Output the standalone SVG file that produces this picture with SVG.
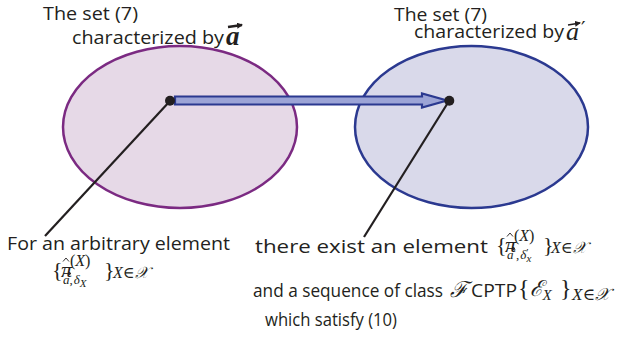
<svg xmlns="http://www.w3.org/2000/svg" width="642" height="346" viewBox="0 0 642 346">
<style>
.t{font-family:"Open Sans","Noto Sans","Liberation Sans",sans-serif;font-size:19px;fill:#231f20}
.m{font-family:"Liberation Serif","DejaVu Serif",serif;fill:#231f20}
.i{font-style:italic}
.s{font-family:"DejaVu Serif",serif;font-style:italic}
.lead{stroke:#231f20;stroke-width:2.2;fill:none}
.acc{stroke:#231f20;fill:none;stroke-width:0.9}
</style>
<defs>
<marker id="vh" viewBox="0 0 6 6" refX="5" refY="3" markerWidth="6" markerHeight="6" markerUnits="userSpaceOnUse" orient="auto"><path d="M0,0 L6,3 L0,6 z" fill="#231f20"/></marker>
</defs>
<g id="set-a">
<ellipse cx="180" cy="127" rx="117" ry="81" fill="#e6d9e7" stroke="#7b2a82" stroke-width="2.5"/>
</g>
<g id="set-a-prime">
<ellipse cx="471.5" cy="127" rx="116.5" ry="81" fill="#d9d9ea" stroke="#2b3990" stroke-width="2.5"/>
</g>
<g id="connectors">
<path d="M175,96.5 L422,96.5 L422,93.5 L447,100.5 L422,107.5 L422,104.5 L175,104.5 Z" fill="#9ca4d6" stroke="#2b3990" stroke-width="2.2" stroke-linejoin="miter"/>
<line class="lead" x1="170" y1="101" x2="45" y2="236"/>
<line class="lead" x1="449" y1="101" x2="364" y2="237"/>
<circle cx="170" cy="100.7" r="5" fill="#231f20"/>
<circle cx="449.3" cy="100.7" r="5" fill="#231f20"/>
</g>
<g id="label-a">
<text class="t" x="43" y="20" textLength="95" lengthAdjust="spacingAndGlyphs">The set (7)</text>
<text class="t" x="72" y="44" textLength="152" lengthAdjust="spacingAndGlyphs">characterized by</text>
<text class="m i" x="226" y="45" font-size="27" font-weight="bold">a</text>
<line x1="228" y1="27" x2="242" y2="25" stroke="#231f20" stroke-width="2.4" marker-end="url(#vh)"/>
</g>
<g id="label-a-prime">
<text class="t" x="394" y="21" textLength="93" lengthAdjust="spacingAndGlyphs">The set (7)</text>
<text class="t" x="414" y="38" textLength="150" lengthAdjust="spacingAndGlyphs">characterized by</text>
<text class="m i" x="566" y="40" font-size="26">a<tspan font-family="DejaVu Sans,sans-serif" font-style="normal" font-size="20" x="581" y="35">′</tspan></text>
<line x1="568" y1="25" x2="580" y2="23" stroke="#231f20" stroke-width="1.6" marker-end="url(#vh)"/>
</g>
<g id="label-arbitrary">
<text class="t" x="7" y="250" textLength="223" lengthAdjust="spacingAndGlyphs">For an arbitrary element</text>
<text class="m" x="52" y="277" font-size="22">{<tspan class="i" x="61" font-size="22">π</tspan><tspan x="70" y="266" font-size="16">(<tspan class="i">X</tspan>)</tspan><tspan x="63" y="284" font-size="13"><tspan class="i">a</tspan>,<tspan class="i" dx="1">δ</tspan><tspan class="i" font-size="11" dy="3">X</tspan></tspan><tspan x="104" y="277">}</tspan><tspan x="113" y="278" font-size="16"><tspan class="i">X</tspan>∈<tspan class="s">𝒳</tspan></tspan></text>
<path d="M63,261.5 L66,258 L69,261.5" class="acc"/>
<line x1="63.5" y1="273.5" x2="70.5" y2="273.5" class="acc"/>
<path d="M68.8,272 L71,273.5 L68.8,275" class="acc"/>
</g>
<g id="label-exist">
<text class="t" x="255" y="253" textLength="233" lengthAdjust="spacingAndGlyphs">there exist an element</text>
<text class="m" x="496" y="252" font-size="22">{<tspan class="i" x="505" font-size="22">π</tspan><tspan x="514" y="241" font-size="16">(<tspan class="i">X</tspan>)</tspan><tspan x="507" y="259" font-size="13"><tspan class="i">a</tspan><tspan font-size="11" dy="-3">′</tspan><tspan dy="3">,</tspan><tspan class="i" dx="1">δ</tspan><tspan font-size="11" dy="-3">′</tspan><tspan class="i" font-size="11" dx="-2" dy="6">x</tspan></tspan><tspan x="543" y="252">}</tspan><tspan x="551" y="253" font-size="16"><tspan class="i">X</tspan>∈<tspan class="s">𝒳</tspan></tspan></text>
<path d="M507,236.5 L510,233 L513,236.5" class="acc"/>
<line x1="507.5" y1="248.5" x2="514.5" y2="248.5" class="acc"/>
<path d="M512.8,247 L515,248.5 L512.8,250" class="acc"/>
</g>
<g id="label-sequence">
<text class="t" x="253" y="297" textLength="190" lengthAdjust="spacingAndGlyphs">and a sequence of class</text>
<text class="m" x="450" y="297" font-size="22"><tspan class="s">ℱ</tspan><tspan class="t" x="471" textLength="46" lengthAdjust="spacingAndGlyphs">CPTP</tspan><tspan x="518" y="296" font-size="24">{</tspan><tspan class="s" font-size="22">ℰ</tspan><tspan class="i" font-size="15" dy="4">X</tspan><tspan x="560" y="296" font-size="24">}</tspan><tspan x="572" y="300" font-size="17"><tspan class="i">X</tspan>∈<tspan class="s">𝒳</tspan></tspan></text>
<text class="t" x="265" y="326" textLength="132" lengthAdjust="spacingAndGlyphs">which satisfy (10)</text>
</g>
</svg>
